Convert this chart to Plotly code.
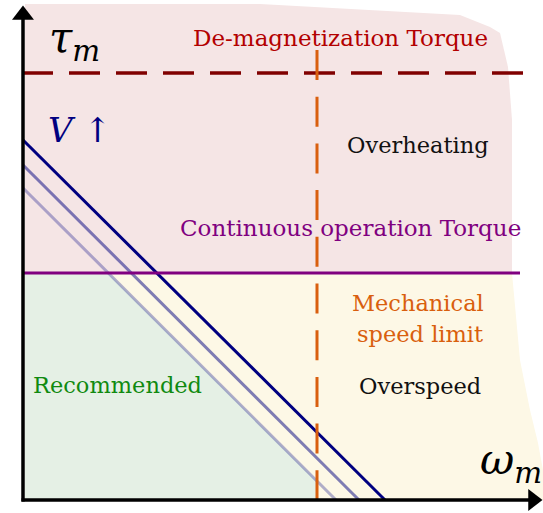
import plotly.graph_objects as go

# ---- data (arbitrary torque / speed units) ----
demag_torque = 427
cont_torque = 227
speed_limit = 294
v_torque0 = [312, 335, 360]      # stall torque of each voltage line (low -> high V)
v_speed0 = [313, 336, 362]       # no-load speed of each voltage line
v_colors = ["rgba(0,0,128,0.30)", "rgba(0,0,128,0.50)", "rgba(0,0,128,1)"]
x_axis_end = 520
y_axis_end = 495

# region outlines
pink_x = [2, 2, 237, 437, 467, 477, 485, 489, 489]
pink_y = [cont_torque, 496, 496, 485, 473, 467, 433, 380, cont_torque]
yellow_x = [2, 2, 489, 497, 507, 515, 520, 520]
yellow_y = [0, cont_torque, cont_torque, 140, 90, 57, 30, 0]

FONT = "DejaVu Serif"

fig = go.Figure()

fig.add_trace(go.Scatter(x=pink_x, y=pink_y, fill="toself", fillcolor="#f5e5e5",
                         line=dict(width=0), mode="lines", hoverinfo="skip"))
fig.add_trace(go.Scatter(x=yellow_x, y=yellow_y, fill="toself", fillcolor="#fdf8e6",
                         line=dict(width=0), mode="lines", hoverinfo="skip"))

t0, s0 = v_torque0[0], v_speed0[0]
x_at_cont = s0 * (1 - cont_torque / t0)
y_at_lim = t0 * (1 - speed_limit / s0)
green_x = [2, 2, x_at_cont, speed_limit, speed_limit]
green_y = [0, cont_torque, cont_torque, y_at_lim, 0]
fig.add_trace(go.Scatter(x=green_x, y=green_y, fill="toself", fillcolor="#e5f0e5",
                         line=dict(width=0), mode="lines", hoverinfo="skip"))

for t, s, c in zip(v_torque0, v_speed0, v_colors):
    fig.add_trace(go.Scatter(x=[0, s], y=[t, 0], mode="lines",
                             line=dict(color=c, width=3), hoverinfo="skip"))

fig.add_trace(go.Scatter(x=[-1, 502], y=[demag_torque, demag_torque], mode="lines",
                         line=dict(color="#800000", width=3.5, dash="31px,16px")))
fig.add_trace(go.Scatter(x=[-1, 497], y=[cont_torque, cont_torque], mode="lines",
                         line=dict(color="#800080", width=3)))
fig.add_trace(go.Scatter(x=[speed_limit, speed_limit], y=[450, 0], mode="lines",
                         line=dict(color="#d95f0e", width=3, dash="30px,16.7px")))

head = 10
fig.add_trace(go.Scatter(x=[0, 0], y=[-1.5, y_axis_end - head], mode="lines",
                         line=dict(color="black", width=3.5), hoverinfo="skip"))
fig.add_trace(go.Scatter(x=[-1.5, x_axis_end - head], y=[0, 0], mode="lines",
                         line=dict(color="black", width=3.5), hoverinfo="skip"))
fig.add_trace(go.Scatter(x=[0], y=[y_axis_end - head], mode="markers",
                         marker=dict(symbol="triangle-up", size=19, color="black"),
                         hoverinfo="skip"))
fig.add_trace(go.Scatter(x=[x_axis_end - head], y=[0], mode="markers",
                         marker=dict(symbol="triangle-right", size=19, color="black"),
                         hoverinfo="skip"))

ann = []

def txt(x, y, s, color, size):
    ann.append(dict(x=x, y=y, xref="x", yref="y", text=s, showarrow=False,
                    font=dict(family=FONT, size=size, color=color)))

txt(51, 460, "<i>τ</i><sub><i>m</i></sub>", "black", 42)
txt(317, 462, "De-magnetization Torque", "#b30000", 23)
txt(57, 370, "<i>V</i> ↑", "#000080", 34)
txt(395, 355, "Overheating", "#111111", 22.5)
txt(327, 272, "Continuous operation Torque", "#800080", 23)
txt(395, 197, "Mechanical", "#d95f0e", 22.5)
txt(397, 166, "speed limit", "#d95f0e", 22.5)
txt(397, 114, "Overspeed", "#111111", 22.5)
txt(94, 115, "Recommended", "#108a10", 22.5)
txt(488, 38, "<i>ω</i><sub><i>m</i></sub>", "black", 42)

fig.update_layout(
    width=543, height=513, margin=dict(l=0, r=0, t=0, b=0),
    paper_bgcolor="white", plot_bgcolor="white", showlegend=False,
    font=dict(family=FONT),
    xaxis=dict(range=[-23, 520], visible=False, fixedrange=True),
    yaxis=dict(range=[-13, 500], visible=False, fixedrange=True),
    annotations=ann,
)
fig.write_html("out.html", config={"displayModeBar": False},
               post_script="document.body.style.margin='0';document.body.style.overflow='hidden';")
